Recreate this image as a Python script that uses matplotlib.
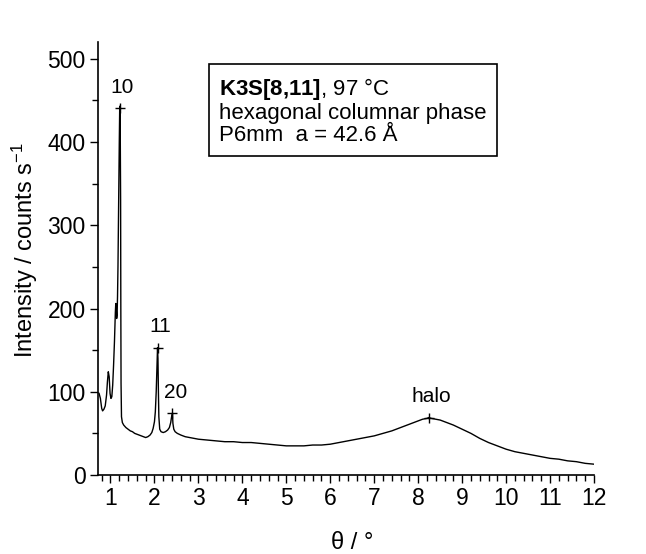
import matplotlib
matplotlib.use('Agg')
import matplotlib.pyplot as plt
from matplotlib.ticker import MultipleLocator

plt.rcParams['font.family'] = ['Liberation Sans', 'DejaVu Sans']
plt.rcParams['mathtext.fontset'] = 'custom'
plt.rcParams['mathtext.rm'] = 'Liberation Sans'
plt.rcParams['mathtext.bf'] = 'Liberation Sans:bold'
plt.rcParams['mathtext.default'] = 'regular'

# diffractogram (theta in degrees, counts per second)
theta = [0.74, 0.77, 0.80, 0.82, 0.85, 0.88, 0.91, 0.93, 0.95, 0.97, 0.99, 1.01,
         1.03, 1.05, 1.07, 1.09, 1.11, 1.12, 1.13, 1.14, 1.15, 1.16, 1.17, 1.18,
         1.19, 1.20, 1.21, 1.22, 1.23, 1.235, 1.24, 1.25, 1.27, 1.30, 1.35, 1.40,
         1.45, 1.50, 1.55, 1.60, 1.65, 1.70, 1.75, 1.80, 1.85, 1.90, 1.94, 1.97,
         2.00, 2.02, 2.04, 2.06, 2.07, 2.08, 2.09, 2.10, 2.12, 2.15, 2.20, 2.25,
         2.30, 2.34, 2.37, 2.39, 2.41, 2.42, 2.44, 2.47, 2.52, 2.60, 2.70, 2.80,
         2.90, 3.00, 3.20, 3.40, 3.60, 3.80, 4.00, 4.20, 4.40, 4.60, 4.80, 5.00,
         5.20, 5.40, 5.60, 5.80, 6.00, 6.20, 6.40, 6.60, 6.80, 7.00, 7.20, 7.40,
         7.60, 7.80, 8.00, 8.10, 8.20, 8.24, 8.30, 8.40, 8.50, 8.60, 8.80, 9.00,
         9.20, 9.40, 9.60, 9.80, 10.00, 10.20, 10.40, 10.60, 10.80, 11.00, 11.20,
         11.40, 11.60, 11.80, 12.00]
counts = [98, 92, 80, 77, 79, 83, 96, 112, 124, 118, 98, 92,
          94, 108, 132, 160, 195, 206, 200, 188, 192, 215, 250, 300,
          350, 400, 443, 430, 330, 200, 110, 70, 63, 60, 57, 55,
          53, 52, 50, 49, 48, 47, 46, 45, 46, 48, 51, 56,
          64, 76, 100, 135, 153, 140, 100, 70, 55, 52, 51, 52,
          54, 57, 63, 70, 74, 62, 55, 52, 50, 48, 46, 45,
          44, 43, 42, 41, 40, 40, 39, 39, 38, 37, 36, 35,
          35, 35, 36, 36, 37, 39, 41, 43, 45, 47, 50, 53,
          57, 61, 65, 67, 68, 69, 68, 67, 66, 64, 60, 55,
          50, 44, 39, 35, 31, 28, 26, 24, 22, 20, 19,
          17, 16, 14, 13]

# indexed reflections: position, marker height, label
peak_theta = [1.21, 2.07, 2.41, 8.24]
peak_counts = [441, 153, 74, 69]
peak_labels = ['10', '11', '20', 'halo']

fig = plt.figure(figsize=(6.46, 5.54), dpi=100)
ax = fig.add_axes([0.152, 0.1426, 0.7675, 0.7814])

ax.plot(theta, counts, color='black', lw=1.0)
ax.plot(peak_theta, peak_counts, '+', color='black', ms=7.5, mew=1.0)
for px, py, lab in zip(peak_theta, peak_counts, peak_labels):
    ax.annotate(lab, (px, py), xytext=(2, 15), textcoords='offset points',
                ha='center', va='center', fontsize=15)

ax.set_xlim(0.72, 12)
ax.set_ylim(0, 520)
ax.xaxis.set_major_locator(MultipleLocator(1))
ax.xaxis.set_minor_locator(MultipleLocator(0.2))
ax.yaxis.set_major_locator(MultipleLocator(100))
ax.yaxis.set_minor_locator(MultipleLocator(50))
ax.tick_params(which='major', direction='out', length=6, width=1, labelsize=16.5, pad=3)
ax.tick_params(which='minor', direction='out', length=4, width=1)
for s in ['top', 'right']:
    ax.spines[s].set_visible(False)
for s in ['left', 'bottom']:
    ax.spines[s].set_linewidth(1.2)

ax.set_ylabel('Intensity / counts s$^{-1}$', fontsize=17)
ax.yaxis.set_label_coords(-0.118, 0.52)
fig.text(352 / 646, 1 - 543 / 554, '\u03b8 / \u00b0', fontsize=17, ha='center', va='center')

fig.text(219 / 646, 1 - 76 / 554,
         '$\\mathbf{K3S[8{,}11]}$, 97 \u00b0C\nhexagonal columnar phase\nP6mm  a = 42.6 \u00c5',
         ha='left', va='top', fontsize=16, linespacing=1.05,
         bbox=dict(boxstyle='square,pad=0.45', fc='white', ec='black', lw=1.2))

fig.savefig('out.png', dpi=100)
